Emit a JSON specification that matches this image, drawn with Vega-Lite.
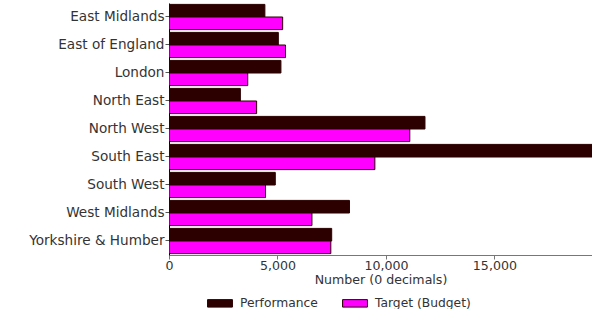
{
  "$schema": "https://vega.github.io/schema/vega-lite/v6.json",
  "autosize": {"type": "none"},
  "padding": {"left": 169, "top": 3, "right": 0, "bottom": 54},
  "width": 423,
  "height": 252,
  "background": "white",
  "config": {
    "view": {"stroke": null},
    "font": "DejaVu Sans",
    "axis": {"labelFont": "DejaVu Sans", "titleFont": "DejaVu Sans", "labelColor": "#333", "titleColor": "#333", "grid": false},
    "legend": {"labelFont": "DejaVu Sans"}
  },
  "data": {
    "values": [
      {"region": "East Midlands", "series": "Performance", "value": 4420},
      {"region": "East Midlands", "series": "Target (Budget)", "value": 5240},
      {"region": "East of England", "series": "Performance", "value": 5040},
      {"region": "East of England", "series": "Target (Budget)", "value": 5370},
      {"region": "London", "series": "Performance", "value": 5160},
      {"region": "London", "series": "Target (Budget)", "value": 3630},
      {"region": "North East", "series": "Performance", "value": 3290},
      {"region": "North East", "series": "Target (Budget)", "value": 4040},
      {"region": "North West", "series": "Performance", "value": 11800},
      {"region": "North West", "series": "Target (Budget)", "value": 11100},
      {"region": "South East", "series": "Performance", "value": 21000},
      {"region": "South East", "series": "Target (Budget)", "value": 9490},
      {"region": "South West", "series": "Performance", "value": 4900},
      {"region": "South West", "series": "Target (Budget)", "value": 4450},
      {"region": "West Midlands", "series": "Performance", "value": 8320},
      {"region": "West Midlands", "series": "Target (Budget)", "value": 6590},
      {"region": "Yorkshire & Humber", "series": "Performance", "value": 7500},
      {"region": "Yorkshire & Humber", "series": "Target (Budget)", "value": 7460}
    ]
  },
  "mark": {"type": "bar", "clip": true, "stroke": "#2a0000", "strokeWidth": 1},
  "encoding": {
    "y": {
      "field": "region", "type": "nominal", "sort": null,
      "scale": {"paddingInner": 0.1, "paddingOuter": 0.05},
      "axis": {"title": null, "labelFontSize": 13.6, "domainColor": "#000", "tickColor": "#555", "tickSize": 4, "labelPadding": 1}
    },
    "yOffset": {"field": "series", "type": "nominal", "sort": ["Performance", "Target (Budget)"]},
    "x": {
      "field": "value", "type": "quantitative",
      "scale": {"domain": [0, 19500], "nice": false},
      "axis": {"title": "Number (0 decimals)", "titleFontWeight": "normal", "titleFontSize": 12.6, "labelFontSize": 12.6, "values": [0, 5000, 10000, 15000], "format": ",.0f", "domainColor": "#777", "tickColor": "#777", "tickSize": 4, "labelPadding": 0, "titlePadding": 2, "labelFlush": false}
    },
    "color": {
      "field": "series", "type": "nominal",
      "scale": {"domain": ["Performance", "Target (Budget)"], "range": ["#2d0000", "#ff00ff"]},
      "legend": {
        "title": null, "orient": "none", "direction": "horizontal", "legendX": 38, "legendY": 287, "padding": 0,
        "symbolType": "M-1,-0.3L1,-0.3L1,0.3L-1,0.3Z", "symbolSize": 620, "symbolStrokeColor": "#2a0000", "symbolStrokeWidth": 1,
        "labelFontSize": 12.3, "labelColor": "#333", "labelOffset": 7, "columnPadding": 22, "symbolOffset": 0
      }
    }
  }
}
